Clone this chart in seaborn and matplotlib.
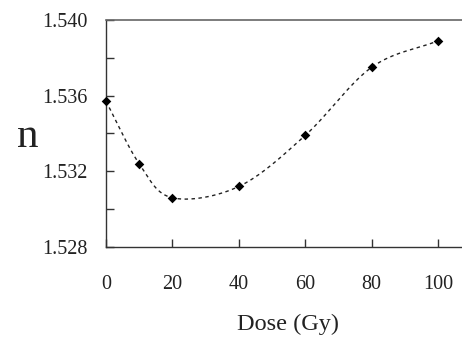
import numpy as np
import pandas as pd
import matplotlib
matplotlib.use("Agg")
import matplotlib.pyplot as plt
import seaborn as sns
from matplotlib.ticker import MultipleLocator, FormatStrFormatter

dose = [0, 10, 20, 40, 60, 80, 100]
n_vals = [1.5357, 1.5324, 1.5306, 1.5312, 1.5339, 1.5375, 1.5389]
x_ticks = [0, 20, 40, 60, 80, 100]
y_ticks = [1.528, 1.532, 1.536, 1.540]

sns.set_style("white")
plt.rcParams['font.family'] = ['Liberation Serif', 'DejaVu Serif']

df = pd.DataFrame({"Dose": dose, "n": n_vals})

fig = plt.figure(figsize=(4.62, 3.37), dpi=100)
ax = fig.add_axes([106/462, 1-247/337, 1-106/462, (247-20)/337])

# smooth (Catmull-Rom) rendering of the connecting line
def catmull(xs, ys, steps=30):
    xs = np.asarray(xs, float); ys = np.asarray(ys, float)
    px = np.concatenate([[2*xs[0]-xs[1]], xs, [2*xs[-1]-xs[-2]]])
    py = np.concatenate([[2*ys[0]-ys[1]], ys, [2*ys[-1]-ys[-2]]])
    ox, oy = [], []
    for i in range(1, len(px)-2):
        t = np.linspace(0, 1, steps, endpoint=False)
        for p, o in ((px, ox), (py, oy)):
            p0, p1, p2, p3 = p[i-1], p[i], p[i+1], p[i+2]
            o.extend(0.5*((2*p1) + (-p0+p2)*t + (2*p0-5*p1+4*p2-p3)*t**2 + (-p0+3*p1-3*p2+p3)*t**3))
    ox.append(xs[-1]); oy.append(ys[-1])
    return np.array(ox), np.array(oy)

cx, cy = catmull(dose, n_vals)
ax.plot(cx, cy, linestyle=(0, (2.5, 2.5)), color="#222222", linewidth=1.0, zorder=2, clip_on=False)
sns.scatterplot(data=df, x="Dose", y="n", marker="D", s=24, color="black",
                edgecolor="black", linewidth=0, ax=ax, zorder=3, clip_on=False)

ax.set_xlim(0, 107.2)
ax.set_ylim(1.528, 1.540)
ax.set_xticks(x_ticks)
ax.set_yticks(y_ticks)
ax.yaxis.set_minor_locator(MultipleLocator(0.002))
ax.yaxis.set_major_formatter(FormatStrFormatter('%.3f'))
ax.tick_params(axis='both', which='both', direction='in', length=6, width=1, color="#333333",
               labelsize=14.5, labelcolor="#222222")
ax.tick_params(axis='x', pad=20, bottom=True)
ax.tick_params(axis='y', which='both', pad=13.5, left=True)
ax.set_xlabel("")
ax.set_ylabel("")

for s in ["left", "bottom"]:
    ax.spines[s].set_color("#333333")
    ax.spines[s].set_linewidth(1.0)
ax.spines["top"].set_color("#666666")
ax.spines["top"].set_linewidth(1.2)
ax.spines["right"].set_visible(False)

fig.text(28/462, 1-137/337, "n", fontsize=31, ha="center", va="center", color="#222222")
fig.text(288/462, 1-324/337, "Dose (Gy)", fontsize=17.5, ha="center", va="center", color="#222222")

fig.savefig("out.png", dpi=100)
